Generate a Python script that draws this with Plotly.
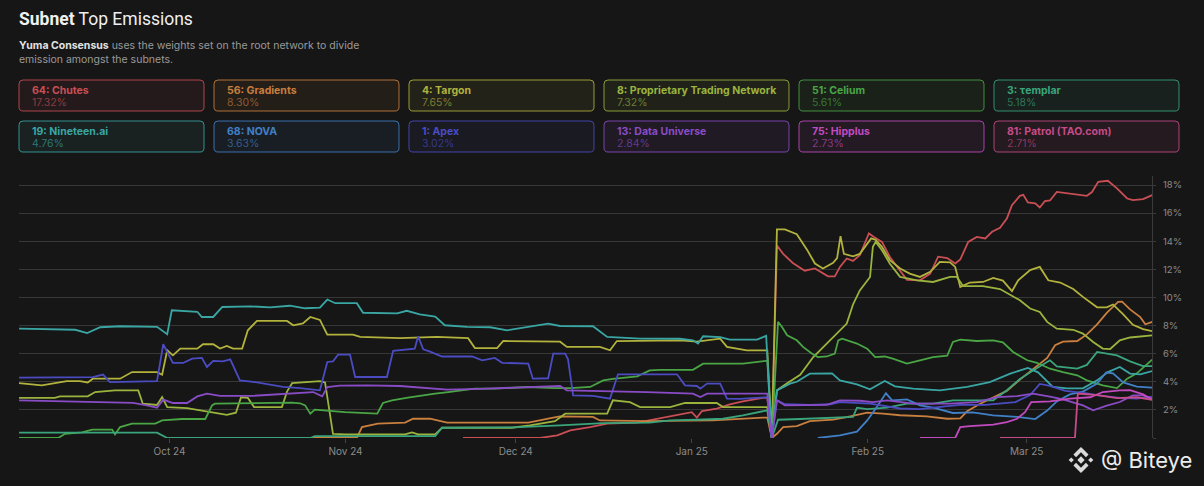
import pandas as pd
import plotly.graph_objects as go

# days since 2024-09-04, emission share in %
DAY0 = pd.Timestamp("2024-09-04")

chutes_days = [78.7, 92.3, 95.3, 97.6, 101.1, 104.1, 109.4, 112.9, 116.4, 119.0, 119.9, 120.8, 123.4, 125.7, 128.0, 131.5, 132.3, 133.1,
               134.0, 135.1, 136.8, 138.9, 140.7, 143.0, 144.2, 145.1, 146.3, 147.4, 148.6, 150.2, 151.1, 152.5, 153.9, 155.7, 156.9,
               159.2, 161.0, 162.4, 164.0, 165.4, 166.3, 167.7, 169.2, 170.7, 171.9, 173.3, 174.5, 175.4, 176.8, 177.4, 178.2, 179.5,
               180.3, 181.2, 182.1, 183.3, 184.4, 185.6, 188.6, 189.5, 190.6, 192.3, 193.9, 195.7, 196.7, 198.5, 200.1]
chutes_pct = [0, 0, 0.19, 0.54, 0.78, 1.02, 1.1, 1.37, 1.61, 1.84, 1.45, 1.92, 2.09, 2.39, 2.6, 2.85, 2.85, 0,
              13.7, 13.1, 12.45, 11.9, 12.06, 11.5, 11.5, 12.17, 12.77, 12.6, 13.0, 14.55, 14.3, 13.95, 12.88, 11.94, 11.25,
              11.22, 11.7, 12.9, 12.8, 12.41, 12.7, 13.95, 14.31, 14.2, 14.67, 14.95, 15.62, 16.57, 17.23, 17.3, 16.76, 16.7,
              16.4, 16.85, 16.9, 17.51, 17.45, 17.35, 17.23, 17.5, 18.23, 18.3, 17.76, 17.04, 16.92, 17.0, 17.28]

gradients_days = [48.8, 60.0, 60.9, 63.7, 68.5, 69.9, 72.9, 75.9, 87.3, 90.2, 94.6, 95.8, 101.6, 102.8, 111.1, 122.7, 131.5, 132.3, 133.1,
                  134.0, 135.1, 137.5, 139.8, 143.9, 146.3, 149.9, 152.7, 155.7, 160.4, 164.0, 166.3, 167.5, 169.8, 172.1, 174.5,
                  176.8, 179.1, 181.6, 183.0, 184.4, 186.9, 188.6, 190.4, 192.1, 194.1, 194.8, 196.2, 198.0, 198.9, 200.1]
gradients_pct = [0, 0, 0.78, 1.02, 1.1, 1.37, 1.37, 1.09, 1.1, 1.1, 1.45, 1.54, 1.5, 1.25, 1.2, 1.25, 1.45, 1.45, 0,
                 0.3, 0.78, 0.85, 1.2, 1.3, 1.49, 1.8, 1.73, 1.62, 1.54, 1.37, 1.4, 1.9, 2.44, 2.91, 3.35,
                 4.15, 4.87, 5.7, 6.6, 6.85, 6.9, 7.37, 8.08, 8.9, 9.68, 9.7, 9.15, 8.6, 8.09, 8.26]

targon_days = [0.5, 4.5, 8.9, 11.2, 12.6, 13.5, 18.3, 20.4, 24.8, 25.7, 26.6, 27.6, 28.9, 31.9, 32.9, 34.7, 35.9, 37.1, 38.2, 39.8,
               40.8, 42.4, 47.7, 48.8, 50.5, 51.8, 53.5, 54.8, 59.3, 60.6, 67.6, 74.1, 79.6, 80.8, 84.7, 85.8, 95.8, 97.0, 102.8,
               104.6, 105.8, 116.9, 119.9, 124.0, 125.2, 128.7, 132.3, 133.1, 134.0, 135.4, 137.5, 139.3, 140.7, 142.1, 143.9,
               144.6, 145.2, 145.8, 147.4, 148.6, 150.6, 151.4, 152.5, 153.9, 155.7, 157.4, 159.2, 161.0, 162.7, 164.5, 165.4,
               166.3, 168.0, 170.3, 172.1, 173.8, 175.4, 176.5, 178.6, 180.3, 181.8, 183.9, 186.2, 187.9, 190.4, 192.1, 193.2,
               195.0, 196.7, 198.5, 200.1]
targon_pct = [3.91, 3.75, 4.05, 4.05, 3.95, 4.22, 4.22, 4.69, 4.69, 4.5, 6.24, 5.88, 6.36, 6.36, 6.67, 6.67, 6.36, 6.55, 6.36, 6.36,
              7.66, 8.33, 8.33, 8.02, 8.15, 8.61, 8.4, 7.36, 7.36, 7.19, 7.1, 7.19, 7.1, 6.4, 6.4, 6.9, 6.85, 6.48, 6.48,
              6.24, 6.9, 6.95, 6.85, 7.07, 6.48, 6.24, 6.24, 0, 14.84, 14.84, 14.5, 13.4, 12.41, 12.06, 12.46,
              12.8, 14.36, 13.1, 12.93, 13.1, 14.2, 14.1, 13.6, 12.65, 12.06, 11.7, 11.46, 11.82, 12.53, 12.5, 12.17,
              10.75, 11.06, 11.1, 11.39, 11.2, 10.45, 11.22, 11.94, 12.17, 11.22, 11.06, 10.6, 10.04, 9.3, 9.3, 9.5,
              8.8, 8.05, 7.75, 7.6]

ptn_days = [0.5, 6.8, 7.7, 12.6, 13.9, 17.4, 21.5, 22.3, 24.8, 25.7, 26.6, 30.1, 37.1, 38.7, 39.6, 40.8, 41.9, 46.8, 47.7, 48.6,
            53.5, 54.4, 55.8, 57.9, 68.5, 69.7, 70.8, 73.8, 75.0, 87.3, 90.5, 94.9, 96.7, 104.1, 105.1, 108.1, 109.9, 115.2,
            117.8, 123.4, 124.5, 132.3, 133.1, 134.0, 135.8, 138.1, 140.4, 142.5, 145.1, 146.3, 147.4, 148.6, 150.4, 150.9,
            151.4, 152.5, 153.9, 155.7, 158.7, 161.5, 164.5, 165.7, 166.8, 170.3, 173.3, 175.6, 176.8, 178.6, 180.3, 181.6,
            183.3, 186.2, 187.9, 189.7, 191.4, 192.7, 194.4, 196.2, 200.1]
ptn_pct = [2.86, 2.86, 2.96, 2.96, 3.27, 3.39, 3.39, 2.44, 2.35, 2.91, 2.2, 2.13, 1.65, 1.8, 2.9, 2.85, 2.2, 2.2, 3.3, 3.9,
           4.05, 3.95, 0.3, 0.26, 0.26, 0.4, 0.26, 0.26, 0.73, 0.73, 0.9, 1.2, 1.73, 1.73, 2.68, 2.55, 2.2, 2.2,
           2.49, 2.49, 2.2, 2.2, 0, 3.4, 3.9, 4.5, 5.76, 6.6, 7.66, 8.14, 9.5, 10.5, 11.46, 13.6,
           13.95, 13.36, 12.4, 11.46, 11.22, 11.1, 11.46, 11.46, 10.8, 10.8, 10.6, 10.04, 9.8, 9.21, 8.97, 8.26,
           7.78, 7.7, 7.43, 6.83, 6.36, 6.33, 6.95, 7.15, 7.3]

celium_days = [0.5, 7.4, 8.6, 11.6, 13.4, 16.9, 17.4, 18.3, 20.4, 24.5, 25.7, 29.2, 33.3, 34.5, 35.0, 40.8, 48.6, 50.0, 50.9, 51.8,
               52.6, 57.9, 63.6, 64.6, 66.2, 69.0, 70.2, 73.8, 76.1, 80.8, 84.3, 90.2, 94.9, 97.6, 101.1, 103.4, 105.1, 109.4,
               111.6, 113.4, 119.2, 121.0, 128.0, 131.9, 132.3, 133.1, 134.2, 134.9, 135.8, 137.5, 138.6, 140.2, 141.2, 142.8,
               144.2, 144.8, 145.5, 148.1, 149.9, 151.3, 153.0, 154.4, 156.9, 159.2, 161.5, 164.0, 165.0, 166.3, 169.2, 172.1,
               173.8, 175.6, 178.1, 179.8, 182.1, 184.4, 186.9, 188.6, 191.4, 193.9, 195.7, 197.4, 200.1]
celium_pct = [0, 0, 0.3, 0.4, 0.59, 0.6, 0.26, 0.78, 1.02, 1.02, 1.25, 1.35, 1.35, 2.32, 2.44, 2.49, 2.52, 2.47, 2.32, 1.73,
              2.02, 1.84, 1.73, 2.49, 2.68, 2.87, 2.95, 3.16, 3.27, 3.51, 3.51, 3.63, 3.55, 3.55, 3.63, 4.1, 4.2, 4.39,
              4.81, 4.85, 4.85, 5.29, 5.29, 5.5, 5.5, 0, 8.26, 7.9, 7.31, 6.95, 6.48, 6.0, 5.76, 5.8,
              6.0, 6.95, 7.07, 6.72, 6.36, 5.76, 5.8, 5.65, 5.29, 5.53, 5.76, 5.85, 6.83, 7.0, 6.9, 6.95,
              6.8, 6.12, 5.53, 5.35, 4.93, 4.69, 4.46, 4.1, 3.75, 3.55, 4.22, 4.6, 5.58]

templar_days = [0.5, 24.8, 26.6, 51.8, 52.6, 73.8, 75.0, 87.5, 95.8, 103.4, 111.6, 115.2, 119.9, 124.5, 128.0, 131.9, 132.3, 133.1,
                134.2, 138.1, 143.9, 147.4, 148.1, 149.9, 153.4, 156.9, 161.5, 165.0, 172.1, 174.5, 176.8, 179.1, 182.1, 183.3,
                186.9, 188.6, 190.4, 193.9, 196.2, 198.5, 200.1]
templar_pct = [0.38, 0.38, 0, 0, 0.14, 0.14, 0.73, 0.75, 0.9, 1.06, 1.1, 1.25, 1.3, 1.37, 1.61, 1.97, 1.97, 0,
               1.3, 1.35, 1.45, 1.5, 2.16, 2.05, 2.16, 2.44, 2.44, 2.68, 2.68, 3.4, 4.2, 4.81, 5.53, 5.1,
               4.93, 5.2, 6.12, 5.88, 5.45, 5.12, 5.12]

nineteen_days = [0.5, 10.4, 12.5, 14.8, 18.3, 24.8, 26.6, 27.4, 31.9, 32.7, 34.7, 36.3, 41.2, 44.7, 48.2, 50.9, 53.5, 54.8, 56.2,
                 60.0, 61.1, 65.0, 67.1, 68.8, 71.1, 73.8, 75.5, 79.4, 83.5, 86.5, 90.0, 93.7, 95.8, 101.6, 104.1, 109.9, 116.9,
                 119.2, 120.1, 121.0, 124.0, 125.7, 130.5, 132.1, 133.1, 134.0, 136.3, 137.5, 139.8, 143.7, 145.1, 148.1, 150.4,
                 153.0, 154.8, 158.0, 162.7, 167.5, 171.5, 175.1, 178.2, 180.0, 182.6, 185.1, 187.9, 190.4, 192.3, 194.4, 196.2,
                 198.0, 200.1]
nineteen_pct = [7.78, 7.7, 7.47, 7.88, 7.95, 7.91, 7.38, 9.09, 8.98, 8.61, 8.61, 9.32, 9.37, 9.3, 9.41, 9.23, 9.27, 9.85, 9.59,
                9.59, 8.91, 8.87, 8.87, 9.05, 8.8, 8.63, 8.02, 7.91, 7.88, 7.66, 7.9, 8.14, 7.97, 7.95, 7.19, 7.07, 7.06,
                6.95, 6.72, 7.24, 7.17, 7.0, 7.0, 7.27, 0, 3.39, 3.87, 4.0, 4.58, 4.6, 4.1, 3.82, 3.46,
                4.05, 3.68, 3.51, 3.39, 3.63, 3.98, 4.58, 4.98, 4.67, 3.63, 3.53, 3.53, 4.1, 4.69, 5.05, 4.58,
                4.53, 4.76]

nova_days = [141.2, 145.1, 148.1, 149.9, 151.6, 153.2, 154.3, 156.9, 159.2, 161.5, 165.0, 168.5, 172.1, 176.3, 179.5, 181.6,
             183.3, 185.6, 187.9, 190.4, 192.0, 193.2, 195.0, 197.4, 200.1]
nova_pct = [0, 0.19, 0.45, 1.25, 2.2, 3.18, 2.68, 2.75, 2.32, 2.16, 1.78, 1.82, 1.61, 1.5, 1.35, 1.95,
            2.6, 3.1, 3.3, 3.87, 4.66, 4.6, 3.95, 3.65, 3.58]

apex_days = [0.5, 7.7, 10.7, 13.5, 15.3, 16.5, 24.8, 25.9, 26.6, 27.6, 29.4, 31.0, 32.7, 33.6, 34.7, 36.4, 37.7, 39.4, 41.7, 47.0,
             50.0, 53.5, 54.8, 55.8, 56.7, 58.8, 59.7, 65.3, 66.4, 69.0, 70.2, 70.8, 71.7, 72.9, 75.0, 80.3, 82.1, 84.3, 85.6,
             90.2, 91.0, 93.7, 94.6, 96.7, 97.2, 98.1, 101.6, 104.6, 106.0, 116.4, 117.8, 119.9, 120.5, 121.7, 124.0, 125.2,
             127.5, 132.3, 133.1, 134.0, 135.4, 139.8, 143.4, 145.1, 150.4, 155.7, 159.2, 163.6, 166.3, 170.7, 176.0, 178.6,
             180.3, 182.1, 184.8, 188.3, 190.4, 194.4, 197.4, 200.1]
apex_pct = [4.29, 4.29, 4.33, 4.33, 4.51, 3.98, 4.05, 6.67, 6.12, 5.34, 5.34, 5.65, 5.7, 5.05, 5.48, 5.45, 5.6, 4.1, 4.0, 3.63,
            3.55, 3.39, 5.41, 5.45, 5.93, 5.93, 4.34, 4.34, 6.2, 6.3, 6.35, 7.24, 6.31, 6.15, 5.8, 5.8, 5.53, 5.7, 5.35,
            5.29, 4.22, 4.25, 6.0, 6.0, 5.6, 3.03, 3.0, 2.8, 4.53, 4.53, 3.75, 3.7, 3.51, 3.87, 3.87, 2.8,
            2.78, 2.91, 0, 2.7, 2.4, 2.35, 2.4, 2.55, 2.45, 2.1, 2.05, 2.25, 2.35, 2.35, 2.55, 3.05,
            3.85, 3.7, 3.35, 3.2, 3.05, 2.85, 2.8, 2.95]

data_universe_days = [0.5, 14.8, 20.6, 23.0, 24.8, 25.9, 27.6, 30.1, 31.9, 33.6, 35.9, 41.7, 47.7, 52.3, 53.9, 54.8, 57.0, 61.8,
                      67.6, 75.9, 81.7, 93.5, 95.8, 97.0, 105.1, 111.1, 119.2, 120.5, 121.7, 132.3, 133.1, 134.0, 135.4, 142.8,
                      145.1, 148.6, 150.9, 153.4, 158.0, 164.5, 169.2, 172.8, 176.3, 179.1, 182.1, 184.4, 187.9, 189.7, 192.1,
                      194.4, 196.7, 198.5, 200.1]
data_universe_pct = [2.68, 2.56, 2.5, 2.32, 2.16, 2.73, 2.49, 2.49, 2.96, 3.16, 3.0, 3.0, 3.16, 3.27, 2.96, 3.63, 3.72, 3.75,
                     3.7, 3.44, 3.5, 3.63, 3.7, 3.39, 3.35, 3.27, 3.16, 2.91, 3.16, 3.16, 0, 2.68, 2.32, 2.35,
                     2.68, 2.65, 2.55, 2.68, 2.44, 2.44, 2.55, 2.91, 2.98, 3.16, 2.95, 2.75, 2.32, 1.97, 2.3,
                     2.56, 3.03, 3.03, 2.8]

hipplus_days = [159.2, 165.4, 166.3, 168.0, 172.1, 174.5, 176.3, 177.7, 178.8, 182.1, 185.6, 189.2, 191.4, 194.4, 196.2, 198.5, 200.1]
hipplus_pct = [0, 0, 0.78, 0.85, 0.95, 1.13, 1.37, 1.84, 2.56, 2.6, 2.8, 2.9, 3.27, 3.39, 3.4, 3.1, 2.73]

patrol_days = [173.3, 186.5, 187.0, 190.4, 193.9, 197.4, 200.1]
patrol_pct = [0, 0, 3.16, 3.05, 2.84, 2.9, 2.71]

subnets = ["64: Chutes", "56: Gradients", "4: Targon", "8: Proprietary Trading Network", "51: Celium", "3: τemplar",
           "19: Nineteen.ai", "68: NOVA", "1: Apex", "13: Data Universe", "75: Hipplus", "81: Patrol (TAO.com)"]
latest_pct = [17.32, 8.30, 7.65, 7.32, 5.61, 5.18, 4.76, 3.63, 3.02, 2.84, 2.73, 2.71]
colors = ["#c94f55", "#c97f3e", "#b3b23d", "#9bb43e", "#4aa545", "#3aa57c",
          "#3aa6a4", "#4180c6", "#4b4cc2", "#8a4cc6", "#c24bc0", "#c64b88"]
series = [(chutes_days, chutes_pct), (gradients_days, gradients_pct), (targon_days, targon_pct), (ptn_days, ptn_pct),
          (celium_days, celium_pct), (templar_days, templar_pct), (nineteen_days, nineteen_pct), (nova_days, nova_pct),
          (apex_days, apex_pct), (data_universe_days, data_universe_pct), (hipplus_days, hipplus_pct),
          (patrol_days, patrol_pct)]

W, H = 1204, 486
L, R, T, B = 19, 52, 176, 48
PW, PH = W - L - R, H - T - B
BG = "#161616"
FONT = "Inter"


def px_x(px):
    return (px - L) / PW


def px_y(py):
    return (H - B - py) / PH


def rgba(hex_color, a):
    h = hex_color.lstrip("#")
    return "rgba(%d,%d,%d,%.2f)" % (int(h[0:2], 16), int(h[2:4], 16), int(h[4:6], 16), a)


def round_box(x0, y0, x1, y1, r=4):
    pts = [("M", x0 + r, y0), ("L", x1 - r, y0), ("Q", x1, y0, x1, y0 + r), ("L", x1, y1 - r),
           ("Q", x1, y1, x1 - r, y1), ("L", x0 + r, y1), ("Q", x0, y1, x0, y1 - r), ("L", x0, y0 + r),
           ("Q", x0, y0, x0 + r, y0)]
    out = ""
    for p in pts:
        coords = p[1:]
        s = " ".join("%.5f,%.5f" % (px_x(coords[i]), px_y(coords[i + 1])) for i in range(0, len(coords), 2))
        out += p[0] + " " + s + " "
    return out + "Z"


def poly(points):
    return "M " + " L ".join("%.5f,%.5f" % (px_x(a), px_y(b)) for a, b in points) + " Z"


def label(px, py, text, size, color, family=FONT):
    return dict(x=px_x(px), y=px_y(py), xref="paper", yref="paper", text=text, showarrow=False,
                xanchor="left", yanchor="middle", font=dict(size=size, color=color, family=family))


fig = go.Figure()
for (days, pct), color, name in zip(series, colors, subnets):
    fig.add_trace(go.Scatter(
        x=DAY0 + pd.to_timedelta(days, unit="D"), y=pct, name=name, mode="lines",
        line=dict(color=color, width=1.8), hoverinfo="skip",
    ))

shapes = []
annotations = []

# header
annotations.append(label(17, 19, "<b>Subnet</b> Top Emissions", 17.5, "#f0f0f0", "Roboto"))
annotations.append(label(17, 45, "<span style='color:#e2e2e2'><b>Yuma Consensus</b></span> uses the weights set on the root network to divide",
                         10.5, "#9a9a9a"))
annotations.append(label(17, 60, "emission amongst the subnets.", 10.5, "#9a9a9a"))

# subnet cards
for i, (name, pct, color) in enumerate(zip(subnets, latest_pct, colors)):
    col, row = i % 6, i // 6
    x0 = 19 + col * 195
    y0 = 80 + row * 41
    shapes.append(dict(type="path", xref="paper", yref="paper", path=round_box(x0, y0, x0 + 185, y0 + 31),
                       line=dict(color=rgba(color, 0.85), width=1), fillcolor=rgba(color, 0.08), layer="below"))
    annotations.append(label(x0 + 11, y0 + 10, "<b>%s</b>" % name, 10.5, color))
    annotations.append(label(x0 + 11, y0 + 22, "%.2f%%" % pct, 10.5, rgba(color, 0.65)))

# watermark
cx, cy, s = 1081, 460, 13
logo = [
    [(0, -0.28), (0.28, 0), (0, 0.28), (-0.28, 0)],
    [(-0.75, -0.2), (-0.55, 0), (-0.75, 0.2), (-0.95, 0)],
    [(0.75, -0.2), (0.95, 0), (0.75, 0.2), (0.55, 0)],
    [(0, -1), (0.58, -0.42), (0.38, -0.22), (0, -0.6), (-0.38, -0.22), (-0.58, -0.42)],
    [(0, 1), (0.58, 0.42), (0.38, 0.22), (0, 0.6), (-0.38, 0.22), (-0.58, 0.42)],
]
for part in logo:
    shapes.append(dict(type="path", xref="paper", yref="paper",
                       path=poly([(cx + a * s, cy + b * s) for a, b in part]),
                       line=dict(width=0), fillcolor="#dadada"))
annotations.append(label(1099, 460, "@ Biteye", 22, "#ececec"))

fig.update_layout(
    width=W, height=H,
    margin=dict(l=L, r=R, t=T, b=B),
    paper_bgcolor=BG, plot_bgcolor=BG,
    showlegend=False,
    shapes=shapes, annotations=annotations,
    font=dict(family=FONT, color="#8c8c8c"),
    xaxis=dict(
        type="date",
        range=[DAY0 + pd.Timedelta(days=0.49), DAY0 + pd.Timedelta(days=200.07)],
        dtick="M1", tickformat="%b %y",
        showgrid=False, zeroline=False,
        ticks="outside", ticklen=4, tickcolor="#444444",
        tickfont=dict(size=10, color="#8c8c8c"),
    ),
    yaxis=dict(
        side="right",
        range=[0, 18.64],
        tickvals=[0, 2, 4, 6, 8, 10, 12, 14, 16, 18],
        ticktext=["", "2%", "4%", "6%", "8%", "10%", "12%", "14%", "16%", "18%"],
        gridcolor="#373737", gridwidth=1,
        zeroline=False,
        showline=True, linecolor="#3a3a3a", linewidth=1,
        ticks="outside", ticklen=3, tickcolor="#3a3a3a",
        ticklabelstandoff=5,
        tickfont=dict(size=9.5, color="#8c8c8c"),
    ),
)

fig.write_html("out.html", config={"displayModeBar": False},
               post_script="document.body.style.margin='0';")
